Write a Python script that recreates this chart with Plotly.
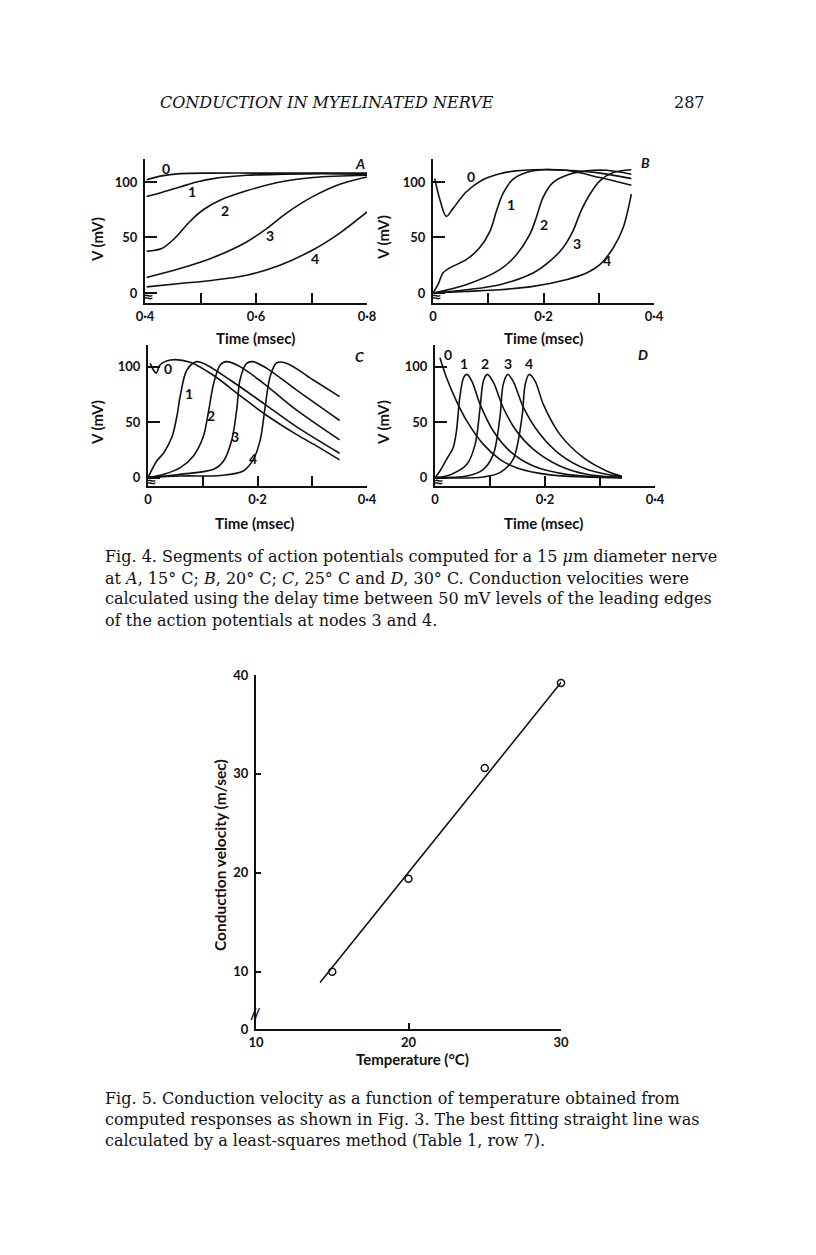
import plotly.graph_objects as go

# page geometry helpers (pixel -> paper fraction); the page body adds an 8px margin
W, H = 816, 1255
OFF = 8


def px(x):
    return (x - OFF) / W


def py(y):
    return 1 - (y - OFF) / H


INK = "#111111"
SANS = "Lato"
SERIF = "DejaVu Serif"

# ---------------- Fig. 4 data (time in msec, V in mV) ----------------
A_TIME = [
    [0.403, 0.43, 0.463, 0.52, 0.6, 0.7, 0.8],
    [0.403, 0.43, 0.463, 0.493, 0.523, 0.583, 0.65, 0.72, 0.8],
    [0.403, 0.43, 0.455, 0.48, 0.505, 0.535, 0.583, 0.643, 0.703, 0.8],
    [0.403, 0.463, 0.523, 0.583, 0.619, 0.655, 0.703, 0.751, 0.8],
    [0.403, 0.463, 0.523, 0.583, 0.643, 0.703, 0.751, 0.8],
]
A_VOLT = [
    [102, 105.5, 107.5, 108, 108, 108, 108],
    [87, 90.5, 95.5, 100, 103, 106, 107, 107.5, 107],
    [37.5, 40, 50, 64, 75, 83.5, 92, 100, 104, 106],
    [14, 22, 32, 46, 58, 72, 87, 98, 104.5],
    [5.5, 8.5, 11.5, 16, 25, 39, 54, 73],
]

B_TIME = [
    [0.003, 0.012, 0.024, 0.036, 0.06, 0.09, 0.121, 0.15, 0.181, 0.241, 0.302, 0.359],
    [0.0, 0.009, 0.018, 0.03, 0.06, 0.084, 0.103, 0.115, 0.127, 0.145, 0.169, 0.199, 0.241, 0.302, 0.359],
    [0.0, 0.06, 0.121, 0.151, 0.175, 0.187, 0.199, 0.217, 0.247, 0.278, 0.314, 0.359],
    [0.0, 0.06, 0.121, 0.181, 0.211, 0.235, 0.253, 0.268, 0.284, 0.302, 0.326, 0.359],
    [0.0, 0.06, 0.121, 0.181, 0.241, 0.278, 0.302, 0.326, 0.344, 0.359],
]
B_VOLT = [
    [103, 85, 69, 76, 91, 102, 107.5, 110, 111, 110.5, 104, 97],
    [0, 7.5, 18, 22.5, 30, 40.5, 55.5, 74, 90, 102.5, 108.5, 111, 110.5, 108, 103],
    [0, 7.5, 21, 34.5, 52.5, 68, 86, 99.5, 107, 110, 110.5, 107],
    [0, 3, 7.5, 18, 28.5, 40.5, 55.5, 74, 89, 101, 108.5, 111],
    [0, 1.5, 3, 6, 12, 18, 25.5, 40.5, 58.5, 89],
]

C_TIME = [
    [0.004, 0.01, 0.015, 0.022, 0.041, 0.077, 0.12, 0.168, 0.217, 0.271, 0.31, 0.35],
    [0.0, 0.016, 0.029, 0.044, 0.053, 0.059, 0.071, 0.089, 0.107, 0.15, 0.211, 0.271, 0.35],
    [0.0, 0.029, 0.059, 0.083, 0.101, 0.11, 0.12, 0.132, 0.144, 0.168, 0.211, 0.271, 0.35],
    [0.0, 0.059, 0.12, 0.138, 0.153, 0.162, 0.168, 0.18, 0.192, 0.217, 0.271, 0.35],
    [0.0, 0.059, 0.132, 0.174, 0.192, 0.205, 0.214, 0.223, 0.235, 0.253, 0.302, 0.35],
]
C_VOLT = [
    [103, 97, 94, 101.5, 106, 104, 92, 74, 56, 39, 28, 16],
    [0, 15, 22.5, 37, 56, 74, 97, 104.5, 101.5, 88, 67, 46, 22],
    [0, 3, 9, 19.5, 37, 58, 85, 101.5, 104.5, 100, 85, 61, 34],
    [0, 3, 7.5, 15, 34, 61, 88, 103, 104.5, 98.5, 79, 51.5],
    [0, 1.5, 2, 6, 16, 34, 64, 91, 103.5, 103, 88, 73],
]

D_TIME = [
    [0.009, 0.021, 0.039, 0.058, 0.088, 0.118, 0.148, 0.209, 0.27, 0.34],
    [0.0, 0.009, 0.021, 0.033, 0.039, 0.045, 0.052, 0.058, 0.067, 0.082, 0.106, 0.136, 0.179, 0.239, 0.34],
    [0.0, 0.027, 0.058, 0.073, 0.082, 0.088, 0.095, 0.106, 0.124, 0.148, 0.179, 0.227, 0.276, 0.34],
    [0.0, 0.058, 0.088, 0.106, 0.118, 0.124, 0.132, 0.142, 0.161, 0.191, 0.227, 0.276, 0.34],
    [0.0, 0.088, 0.118, 0.142, 0.158, 0.164, 0.171, 0.182, 0.197, 0.227, 0.27, 0.312, 0.34],
]
D_VOLT = [
    [108, 90, 69, 51, 30, 16.5, 9, 2.5, 0.6, 0],
    [0, 6, 16.5, 27, 42, 72, 90, 93, 87, 66, 42, 24, 10.5, 3, 0],
    [0, 2.5, 12, 30, 63, 87, 93, 86, 63, 42, 25.5, 10.5, 3, 0],
    [0, 1.5, 7.5, 21, 54, 84, 93, 87, 63, 39, 21, 7.5, 0.6],
    [0, 0.6, 4.5, 16.5, 54, 84, 93, 87, 66, 39, 18, 6, 1.2],
]

# curve number labels (node index) and their positions
NODE_LABELS = ["0", "1", "2", "3", "4"]
A_LABEL_T = [0.438, 0.484, 0.544, 0.626, 0.706]
A_LABEL_V = [112, 91, 74.5, 52, 31]
B_LABEL_T = [0.068, 0.141, 0.2, 0.261, 0.315]
B_LABEL_V = [105, 80, 62, 45, 29]
C_LABEL_T = [0.036, 0.074, 0.115, 0.159, 0.191]
C_LABEL_V = [98, 75.5, 56, 37, 17]
D_LABEL_T = [0.024, 0.053, 0.091, 0.132, 0.17]
D_LABEL_V = [111, 103, 103, 103, 103]

PANEL_LETTERS = ["A", "B", "C", "D"]
LETTER_T = [0.787, 0.384, 0.387, 0.378]
LETTER_V = [117, 118, 109, 111]
BREAK_T = [0.407, 0.007, 0.007, 0.007]

A_TICKS = [0.4, 0.5, 0.6, 0.7, 0.8]
A_TICKTEXT = ["0·4", "", "0·6", "", "0·8"]
BCD_TICKS = [0.0, 0.1, 0.2, 0.3, 0.4]
BCD_TICKTEXT = ["0", "", "0·2", "", "0·4"]
V_TICKS = [0, 50, 100]

# ---------------- Fig. 5 data ----------------
TEMP = [15, 20, 25, 30]
VELOCITY = [10, 19.4, 30.6, 39.2]
FIT_TEMP = [14.2, 30.5]
FIT_VEL = [8.9, 40.2]
T_TICKS = [10, 20, 30]
CV_TICKS = [4.2, 10, 20, 30, 40]
CV_TICKTEXT = ["0", "10", "20", "30", "40"]

fig = go.Figure()

panels = [
    ("x", "y", A_TIME, A_VOLT, A_LABEL_T, A_LABEL_V),
    ("x2", "y2", B_TIME, B_VOLT, B_LABEL_T, B_LABEL_V),
    ("x3", "y3", C_TIME, C_VOLT, C_LABEL_T, C_LABEL_V),
    ("x4", "y4", D_TIME, D_VOLT, D_LABEL_T, D_LABEL_V),
]

label_font = {"family": SANS, "size": 14, "color": INK, "weight": "bold"}

for i, (xa, ya, times, volts, lt, lv) in enumerate(panels):
    for t, v in zip(times, volts):
        fig.add_trace(
            go.Scatter(
                x=t, y=v, xaxis=xa, yaxis=ya, mode="lines",
                line={"color": INK, "width": 1.6, "shape": "spline", "smoothing": 0.9},
                hoverinfo="skip", showlegend=False,
            )
        )
    for lab, tx, vy in zip(NODE_LABELS, lt, lv):
        fig.add_annotation(x=tx, y=vy, xref=xa, yref=ya, text=lab, showarrow=False, font=label_font)
    fig.add_annotation(
        x=LETTER_T[i], y=LETTER_V[i], xref=xa, yref=ya, text=f"<i>{PANEL_LETTERS[i]}</i>",
        showarrow=False, font=label_font,
    )
    # small axis-break mark at the origin
    fig.add_annotation(
        x=BREAK_T[i], y=-3.5, xref=xa, yref=ya, text="≈", showarrow=False,
        font={"family": "DejaVu Sans", "size": 13, "color": INK, "weight": "bold"},
    )

# Fig. 5 traces (the fitted line runs a little past the axis ends)
fig.add_trace(
    go.Scatter(
        x=FIT_TEMP, y=FIT_VEL, xaxis="x5", yaxis="y5", mode="lines", cliponaxis=False,
        line={"color": INK, "width": 1.6}, hoverinfo="skip", showlegend=False,
    )
)
fig.add_trace(
    go.Scatter(
        x=TEMP, y=VELOCITY, xaxis="x5", yaxis="y5", mode="markers", cliponaxis=False,
        marker={"symbol": "circle-open", "size": 7, "color": INK, "line": {"width": 1.5, "color": INK}},
        hoverinfo="skip", showlegend=False,
    )
)

tick_font = {"family": SANS, "size": 13, "color": INK, "weight": "bold"}


def x_axis(dom, rng, vals, text, anchor, ticklen=10):
    return {
        "domain": [px(dom[0]), px(dom[1])], "range": rng, "anchor": anchor,
        "showline": True, "linecolor": INK, "linewidth": 2, "mirror": False,
        "ticks": "inside", "ticklen": ticklen, "tickwidth": 2, "tickcolor": INK,
        "tickvals": vals, "ticktext": text, "tickfont": tick_font, "automargin": False,
        "showgrid": False, "zeroline": False, "fixedrange": True, "ticklabelstandoff": 0,
    }


def y_axis(dom, rng, vals, text, anchor, ticklen=12):
    return {
        "domain": [py(dom[1]), py(dom[0])], "range": rng, "anchor": anchor,
        "showline": True, "linecolor": INK, "linewidth": 2, "mirror": False,
        "ticks": "inside", "ticklen": ticklen, "tickwidth": 2, "tickcolor": INK,
        "tickvals": vals, "ticktext": text, "tickfont": tick_font, "automargin": False,
        "showgrid": False, "zeroline": False, "fixedrange": True, "ticklabelstandoff": 3,
    }


v_text = [str(v) for v in V_TICKS]

fig.update_layout(
    template="none",
    width=W, height=H,
    margin={"l": 0, "r": 0, "t": 0, "b": 0, "pad": 0, "autoexpand": False},
    paper_bgcolor="white", plot_bgcolor="rgba(0,0,0,0)",
    showlegend=False,
    xaxis=x_axis((145, 367), [0.4, 0.8], A_TICKS, A_TICKTEXT, "y"),
    yaxis=y_axis((159, 303), [-9, 120.7], V_TICKS, v_text, "x"),
    xaxis2=x_axis((433, 654), [0, 0.4], BCD_TICKS, BCD_TICKTEXT, "y2"),
    yaxis2=y_axis((159, 303), [-9, 120.7], V_TICKS, v_text, "x2"),
    xaxis3=x_axis((148, 367), [0, 0.4], BCD_TICKS, BCD_TICKTEXT, "y3"),
    yaxis3=y_axis((345, 486), [-7.5, 119.5], V_TICKS, v_text, "x3"),
    xaxis4=x_axis((435, 655), [0, 0.4], BCD_TICKS, BCD_TICKTEXT, "y4"),
    yaxis4=y_axis((345, 486), [-7.5, 119.5], V_TICKS, v_text, "x4"),
    xaxis5=x_axis((256, 561), [10, 30], T_TICKS, [str(t) for t in T_TICKS], "y5", ticklen=6),
    yaxis5=y_axis((675, 1029), [4.2, 40], CV_TICKS, CV_TICKTEXT, "x5", ticklen=5),
)


def text_at(x, y, text, size, family=SANS, bold=True, angle=0, xanchor="center", italic=False):
    font = {"family": family, "size": size, "color": INK}
    if bold:
        font["weight"] = "bold"
    if italic:
        font["style"] = "italic"
    fig.add_annotation(
        x=px(x), y=py(y), xref="paper", yref="paper", text=text, showarrow=False,
        textangle=angle, xanchor=xanchor, yanchor="middle", font=font,
    )


# axis titles
for xx, yy in [(97, 240), (383, 238), (97, 423), (383, 423)]:
    text_at(xx, yy, "V (mV)", 15, angle=-90)
for xx, yy in [(256, 338), (543, 338), (255, 523), (543, 523)]:
    text_at(xx, yy, "Time (msec)", 15)
text_at(220, 855, "Conduction velocity (m/sec)", 15.5, angle=-90)
text_at(412, 1059, "Temperature (°C)", 15)
text_at(256, 1013, "//", 15)

# running head
text_at(327, 102, "CONDUCTION IN MYELINATED NERVE", 16, family=SERIF, bold=False, italic=True)
text_at(689, 102, "287", 16, family=SERIF, bold=False)

# captions
FIG4_CAPTION = [
    "Fig. 4. Segments of action potentials computed for a 15 <i>μ</i>m diameter nerve",
    "at <i>A</i>, 15° C; <i>B</i>, 20° C; <i>C</i>, 25° C and <i>D</i>, 30° C. Conduction velocities were",
    "calculated using the delay time between 50 mV levels of the leading edges",
    "of the action potentials at nodes 3 and 4.",
]
FIG5_CAPTION = [
    "Fig. 5. Conduction velocity as a function of temperature obtained from",
    "computed responses as shown in Fig. 3. The best fitting straight line was",
    "calculated by a least-squares method (Table 1, row 7).",
]
for k, line in enumerate(FIG4_CAPTION):
    text_at(103, 557 + 21 * k, line, 16, family=SERIF, bold=False, xanchor="left")
for k, line in enumerate(FIG5_CAPTION):
    text_at(103, 1098 + 21 * k, line, 16, family=SERIF, bold=False, xanchor="left")

fig.write_html("out.html")
